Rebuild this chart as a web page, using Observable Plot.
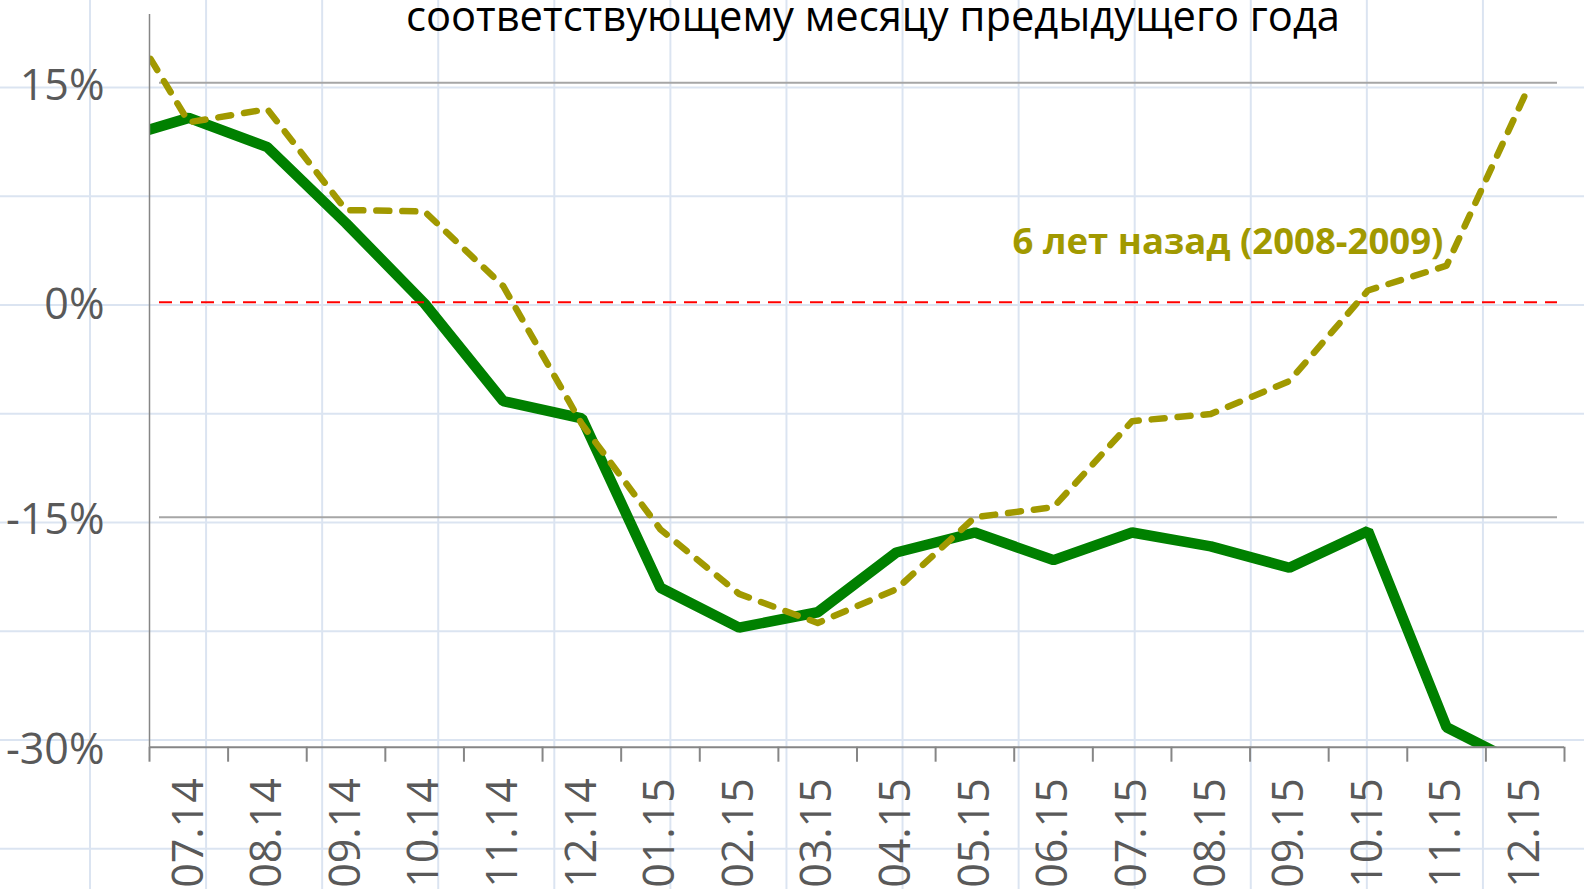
<!DOCTYPE html>
<html>
<head>
<meta charset="utf-8">
<script src="https://cdn.jsdelivr.net/npm/d3@7"></script>
<script src="https://cdn.jsdelivr.net/npm/@observablehq/plot@0.6"></script>
<style>
  html, body { margin: 0; padding: 0; }
  body {
    width: 1584px; height: 889px; overflow: hidden; position: relative;
    background-color: #ffffff;
    background-image:
      linear-gradient(to right, #dbe4f1 0, #dbe4f1 2px, transparent 2px),
      linear-gradient(to bottom, #dbe4f1 0, #dbe4f1 2px, transparent 2px);
    background-size: 116.08px 108.75px;
    background-position: 89px 86.5px;
    font-family: "Open Sans", sans-serif;
  }
  #chart { position: absolute; left: 0; top: 0; }
  #title {
    position: absolute; left: 0; top: -6px; width: 1746px;
    text-align: center; font-size: 41.7px; line-height: 41px; color: #000;
    white-space: nowrap;
  }
</style>
</head>
<body>
<div id="chart"></div>
<div id="title">соответствующему месяцу предыдущего года</div>
<script>
// Months (06.14 lies just left of the axis; the line runs in from it and is clipped)
const months = ["06.14","07.14","08.14","09.14","10.14","11.14","12.14",
                "01.15","02.15","03.15","04.15","05.15","06.15",
                "07.15","08.15","09.15","10.15","11.15","12.15"];
// Year-over-year change, %, 2014-2015 (solid green)
const current = [11.0, 12.6, 10.6, 5.4, -0.1, -6.9, -8.1,
                 -19.6, -22.2, -21.2, -17.3, -16.0, -17.8,
                 -16.0, -16.9, -18.3, -15.9, -28.7, -31.3];
// Same months six years earlier, 2008-2009 (dashed olive)
const sixYearsAgo = [21.2, 12.3, 13.2, 6.3, 6.2, 1.1, -8.5,
                     -15.8, -20.0, -21.9, -19.7, -15.0, -14.3,
                     -8.3, -7.8, -5.5, 0.8, 2.5, 14.2];
const yTicks = [15, 0, -15, -30];
const gridValues = [15, -15];
const zeroLine = [0];
const annotation = "6 лет назад (2008-2009)";

const rows = months.map((m, i) => ({i: i - 1, month: m, cur: current[i], old: sixYearsAgo[i]}));
const labelIdx = d3.range(0, months.length - 1);          // 0..17 -> 07.14..12.15
const bounds = d3.range(-0.5, months.length - 1, 1);      // category boundaries

const green = "#008000";
const olive = "#a19900";
const axisGray = "#868686";
const labelGray = "#595959";

const chart = Plot.plot({
  width: 1584,
  height: 889,
  marginLeft: 149,
  marginRight: 20,
  marginTop: 14,
  marginBottom: 142.3,
  style: {background: "transparent", fontFamily: "Open Sans, sans-serif", overflow: "hidden"},
  x: {type: "linear", domain: [-0.5, months.length - 1.5], label: null},
  y: {type: "linear", domain: [-30, -15, 0, 15], range: [746.7, 516.7, 301.7, 82.3], label: null},
  marks: [
    Plot.ruleY(gridValues, {stroke: "#a6a6a6", strokeWidth: 2, insetLeft: 10, insetRight: 7}),
    Plot.line(rows, {x: "i", y: "cur", stroke: green, strokeWidth: 10.5, strokeLinejoin: "miter", clip: true}),
    Plot.ruleY(zeroLine, {stroke: "#ff0000", strokeWidth: 2, strokeDasharray: "13,8", insetLeft: 10, insetRight: 7}),
    Plot.line(rows, {x: "i", y: "old", stroke: olive, strokeWidth: 6.5, strokeDasharray: "13,13",
                     strokeLinecap: "round", strokeLinejoin: "round", clip: true}),
    Plot.text([annotation], {x: 15.96, y: 4.1, text: d => d, textAnchor: "end",
                             fontSize: 36.5, fontWeight: "bold", fill: olive}),
    // axes
    Plot.ruleX([-0.5], {stroke: axisGray, strokeWidth: 1.5}),
    Plot.ruleY([-30], {stroke: axisGray, strokeWidth: 2}),
    Plot.axisX({ticks: bounds, tickSize: 15, tickFormat: () => "", label: null,
                stroke: axisGray, strokeWidth: 2}),
    Plot.axisX({ticks: labelIdx, tickSize: 0, tickPadding: 31, tickRotate: -90, label: null,
                tickFormat: i => months[i + 1], fontSize: 43, fill: labelGray}),
    Plot.axisY({ticks: yTicks, tickSize: 0, tickPadding: 45, dy: 3.5, label: null,
                tickFormat: d => `${d}%`, fontSize: 43, fill: labelGray})
  ]
});
document.getElementById("chart").appendChild(chart);
</script>
</body>
</html>
